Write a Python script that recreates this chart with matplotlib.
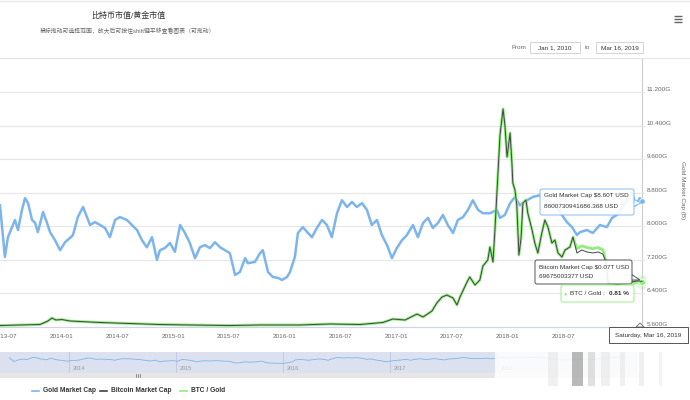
import numpy as np
import pandas as pd
import matplotlib
matplotlib.use('Agg')
import matplotlib.pyplot as plt
from matplotlib.patches import Rectangle, FancyBboxPatch, Polygon

# 黄金市值 (万亿美元)
gold_dates = ['2013-06-12', '2013-06-28', '2013-07-08', '2013-07-31', '2013-08-10', '2013-08-23',
              '2013-09-02', '2013-09-12', '2013-09-25', '2013-10-05', '2013-10-14', '2013-10-31',
              '2013-11-13', '2013-11-23', '2013-12-09', '2013-12-26', '2014-01-11', '2014-01-27',
              '2014-02-06', '2014-02-22', '2014-03-11', '2014-03-24', '2014-04-03', '2014-04-19',
              '2014-05-06', '2014-05-22', '2014-06-07', '2014-06-24', '2014-07-10', '2014-08-02',
              '2014-08-18', '2014-09-04', '2014-09-20', '2014-10-06', '2014-10-23', '2014-11-08',
              '2014-11-18', '2014-12-04', '2014-12-21', '2015-01-06', '2015-01-23', '2015-02-08',
              '2015-02-24', '2015-03-13', '2015-03-29', '2015-04-14', '2015-05-01', '2015-05-17',
              '2015-06-03', '2015-06-19', '2015-07-05', '2015-07-22', '2015-08-07', '2015-08-24',
              '2015-09-02', '2015-09-25', '2015-10-12', '2015-10-21', '2015-11-07', '2015-11-23',
              '2015-12-10', '2015-12-23', '2016-01-08', '2016-01-18', '2016-02-03', '2016-02-13',
              '2016-02-29', '2016-03-17', '2016-03-30', '2016-04-15', '2016-05-02', '2016-05-18',
              '2016-06-03', '2016-06-20', '2016-07-06', '2016-07-23', '2016-08-08', '2016-08-24',
              '2016-09-10', '2016-09-26', '2016-10-12', '2016-10-29', '2016-11-14', '2016-12-01',
              '2016-12-17', '2017-01-02', '2017-01-19', '2017-02-04', '2017-02-24', '2017-03-12',
              '2017-03-29', '2017-04-14', '2017-04-30', '2017-05-17', '2017-06-02', '2017-06-18',
              '2017-07-05', '2017-07-21', '2017-08-07', '2017-08-23', '2017-09-08', '2017-09-25',
              '2017-10-11', '2017-11-03', '2017-11-26', '2017-12-06', '2017-12-22', '2018-01-08',
              '2018-01-24', '2018-02-09', '2018-03-04', '2018-03-24', '2018-04-16', '2018-05-12',
              '2018-06-04', '2018-06-20', '2018-07-13', '2018-07-30', '2018-08-15', '2018-08-25',
              '2018-09-17', '2018-10-06', '2018-10-29', '2018-11-21', '2018-12-08', '2018-12-24',
              '2019-01-09', '2019-01-26', '2019-02-11', '2019-02-24', '2019-03-09', '2019-03-16']
gold_cap = [8.50, 7.27, 7.74, 8.15, 7.91, 8.39, 8.67, 8.55, 8.15, 8.08, 7.86, 8.34,
            8.08, 7.86, 7.67, 7.43, 7.62, 7.72, 7.79, 8.22, 8.46, 8.22, 8.03, 8.10,
            8.03, 7.96, 7.74, 8.15, 8.22, 8.15, 8.03, 7.91, 7.67, 7.50, 7.74, 7.20,
            7.43, 7.48, 7.60, 7.39, 8.03, 7.84, 7.60, 7.24, 7.50, 7.55, 7.48, 7.62,
            7.50, 7.43, 7.36, 6.84, 6.91, 7.24, 7.12, 7.15, 7.36, 7.43, 6.91, 6.79,
            6.77, 6.72, 6.79, 6.91, 7.27, 7.84, 7.98, 7.84, 7.74, 7.96, 8.15, 8.03,
            7.74, 8.31, 8.62, 8.46, 8.58, 8.46, 8.55, 8.39, 8.03, 8.15, 7.79, 7.55,
            7.24, 7.48, 7.67, 7.79, 8.03, 7.74, 8.08, 8.20, 7.96, 8.08, 8.27, 8.03,
            7.84, 8.15, 8.22, 8.39, 8.62, 8.39, 8.31, 8.31, 8.39, 8.20, 8.27, 8.55,
            8.70, 8.50, 8.62, 8.70, 8.74, 8.55, 8.50, 8.34, 8.10, 7.98, 7.79, 7.86,
            7.91, 7.84, 8.03, 7.98, 8.20, 8.27, 8.43, 8.62, 8.81, 8.50, 8.67, 8.60]

# 比特币市值 (十亿美元) 与 BTC/黄金 (%)
btc_dates = ['2013-06-12', '2013-08-16', '2013-10-21', '2013-11-16', '2013-11-29', '2013-12-12',
             '2014-01-01', '2014-01-27', '2014-03-01', '2014-05-06', '2014-08-12', '2014-11-18',
             '2015-02-24', '2015-07-05', '2015-10-12', '2016-02-20', '2016-05-28', '2016-09-03',
             '2016-11-17', '2016-12-20', '2017-01-29', '2017-03-09', '2017-03-29', '2017-04-27',
             '2017-05-13', '2017-05-30', '2017-06-15', '2017-07-05', '2017-07-18', '2017-07-28',
             '2017-08-20', '2017-08-29', '2017-09-15', '2017-10-01', '2017-10-11', '2017-10-27',
             '2017-11-03', '2017-11-13', '2017-11-19', '2017-11-29', '2017-12-06', '2017-12-16',
             '2017-12-22', '2017-12-29', '2018-01-01', '2018-01-08', '2018-01-14', '2018-01-17',
             '2018-01-24', '2018-01-30', '2018-02-06', '2018-02-13', '2018-02-19', '2018-03-01',
             '2018-03-07', '2018-03-21', '2018-03-30', '2018-04-09', '2018-04-22', '2018-05-02',
             '2018-05-12', '2018-05-25', '2018-06-04', '2018-06-14', '2018-06-27', '2018-07-07',
             '2018-07-23', '2018-08-02', '2018-08-15', '2018-08-31', '2018-09-17', '2018-10-06',
             '2018-10-23', '2018-11-08', '2018-11-18', '2018-11-25', '2018-12-24', '2019-01-26',
             '2019-02-27', '2019-03-16']
btc_cap = [2.3, 3.1, 3.8, 9.2, 13.7, 10.7, 11.4, 9.2, 8.4, 6.9,
           5.3, 3.8, 3.1, 2.3, 3.1, 3.1, 4.6, 3.8, 6.9, 12.2,
           10.7, 19.8, 15.3, 24.4, 36.6, 45.8, 48.8, 44.3, 33.6, 45.8,
           68.7, 76.3, 64.1, 71.7, 93.1, 102.3, 122.1, 99.2, 145.0, 232.0,
           293.1, 332.8, 308.3, 259.5, 270.2, 296.1, 250.3, 219.8, 209.1, 186.2,
           109.9, 135.8, 189.3, 193.9, 174.0, 148.1, 128.2, 113.0, 143.5, 163.3,
           152.6, 128.2, 132.8, 113.0, 106.8, 117.5, 122.1, 137.4, 113.0, 117.5,
           114.5, 113.0, 114.5, 111.4, 99.2, 67.2, 65.6, 67.2, 70.2, 69.7]
btc_gold = [0.027, 0.036, 0.045, 0.107, 0.161, 0.125, 0.134, 0.107, 0.098, 0.080,
            0.063, 0.045, 0.036, 0.027, 0.036, 0.036, 0.054, 0.045, 0.080, 0.143,
            0.125, 0.232, 0.179, 0.286, 0.429, 0.536, 0.572, 0.518, 0.393, 0.536,
            0.804, 0.894, 0.751, 0.840, 1.090, 1.197, 1.430, 1.162, 1.698, 2.716,
            3.431, 3.896, 3.610, 3.038, 3.163, 3.467, 2.931, 2.573, 2.448, 2.180,
            1.287, 1.590, 2.216, 2.270, 2.037, 1.733, 1.501, 1.322, 1.680, 1.912,
            1.787, 1.501, 1.555, 1.322, 1.251, 1.376, 1.430, 1.608, 1.40, 1.45,
            1.42, 1.40, 1.42, 1.38, 1.18, 0.786, 0.768, 0.786, 0.822, 0.81]

x_ticks = ['2013-07-01', '2014-01-01', '2014-07-01', '2015-01-01', '2015-07-01', '2016-01-01',
           '2016-07-01', '2017-01-01', '2017-07-01', '2018-01-01', '2018-07-01']
gold_ticks = [5.6, 6.4, 7.2, 8.0, 8.8, 9.6, 10.4, 11.2, 12.0]
gold_tick_labels = ['5.600G', '6.400G', '7.200G', '8.000G', '8.800G', '9.600G',
                    '10.400G', '11.200G', '']
nav_years = ['2014', '2015', '2016', '2017', '2018']

plt.rcParams['font.family'] = ['Liberation Sans', 'Noto Sans CJK SC', 'DejaVu Sans']

W, H = 690, 400
fig = plt.figure(figsize=(6.9, 4), dpi=100)


def fbox(x0, y0, x1, y1):
    return [x0 / W, 1 - y1 / H, (x1 - x0) / W, (y1 - y0) / H]


g_dates = pd.to_datetime(gold_dates)
b_dates = pd.to_datetime(btc_dates)

# 主图
ax = fig.add_axes(fbox(0, 58.4, 645, 327))
ax.plot(g_dates, gold_cap, color='#7cb5ec', lw=1.8)
ax.plot(g_dates[-1], gold_cap[-1], 'o', ms=4, color='#7cb5ec', mec='white', mew=0.6)
ax.set_xlim(pd.Timestamp('2013-06-12'), pd.Timestamp('2019-03-26'))
ax.set_ylim(5.6, 12.0)
ax.set_xticks(pd.to_datetime(x_ticks))
ax.set_xticklabels([d[:7] for d in x_ticks])
ax.grid(axis='y', color='#e6e6e6', lw=0.8)
ax.set_axisbelow(True)
for s in ax.spines.values():
    s.set_visible(False)
ax.spines['bottom'].set_visible(True)
ax.spines['bottom'].set_color('#ccd6eb')
ax.spines['bottom'].set_linewidth(0.8)
ax.axvline(pd.Timestamp('2019-03-16'), color='#cccccc', lw=0.8, zorder=0)

ax_r = ax.twinx()
ax_r.plot(b_dates, btc_gold, color='#90ed7d', lw=2.0)
ax_r.plot(b_dates[-1], btc_gold[-1], 'o', ms=10, color='#90ed7d', alpha=0.3, mew=0)
ax_r.plot(b_dates[-1], btc_gold[-1], 'o', ms=4.5, color='#90ed7d', mec='white', mew=0.6)
ax_r.set_ylim(0, 4.8)
ax_r.axis('off')

ax_b = ax.twinx()
ax_b.plot(b_dates, btc_cap, color='#434348', lw=0.7)
ax_b.set_ylim(0, 410)
ax_b.axis('off')

# twinx 会把原坐标轴的刻度放回左侧, 这里重新放到右侧
ax.yaxis.tick_right()
ax.set_yticks(gold_ticks)
ax.set_yticklabels(gold_tick_labels)
for lbl in ax.get_yticklabels():
    lbl.set_verticalalignment('bottom')
ax.tick_params(axis='x', length=0, labelsize=4.6, labelcolor='#666666', pad=5)
ax.tick_params(axis='y', length=0, labelsize=4.6, labelcolor='#666666', pad=1,
               labelleft=False, labelright=True)

fig.text(682 / W, 1 - 190 / H, 'Gold Market Cap (B)', rotation=270, ha='center', va='center',
         fontsize=4.6, color='#666666')

# 导航器
nav = fig.add_axes(fbox(0, 352, 638, 373))
nav.set_facecolor('#dbe1ef')
nav.plot(g_dates, gold_cap, color='#7cb5ec', lw=0.6)
nav.set_xlim(pd.Timestamp('2013-05-11'), pd.Timestamp('2019-04-26'))
nav.set_ylim(3.6, 10.4)
nav.set_xticks([])
nav.set_yticks([])
for s in nav.spines.values():
    s.set_visible(False)
for yr in nav_years:
    d = pd.Timestamp(yr + '-01-01')
    nav.axvline(d, color='#c3cbe0', lw=0.7, zorder=0)
    nav.text(d + pd.Timedelta(days=12), 0.22, yr, transform=nav.get_xaxis_transform(),
             fontsize=4, color='#999999', ha='left', va='center')

# 叠加层: 标题, 提示框, 图例
ov = fig.add_axes([0, 0, 1, 1], zorder=10)
ov.set_xlim(0, W)
ov.set_ylim(H, 0)
ov.axis('off')
ov.patch.set_alpha(0)

ov.plot([0, W], [1, 1], color='#e6e6e6', lw=0.8)
ov.plot([0, W], [58, 58], color='#e6e6e6', lw=0.8)
ov.text(128, 16, '比特币市值/黄金市值', fontsize=5.8, color='#333333', ha='center', va='center')
ov.text(127, 31, '鼠标拖动可选择范围，放大后可按住shift键平移查看图表（可拖动）', fontsize=4.2,
        color='#666666', ha='center', va='center')
for yy in (15.5, 18.5, 21.5):
    ov.plot([673.5, 681.5], [yy, yy], color='#666666', lw=1.0, solid_capstyle='butt')

ov.text(512, 47.5, 'From', fontsize=4.6, color='#666666', va='center')
ov.add_patch(Rectangle((530, 42), 50, 11, fc='white', ec='#cccccc', lw=0.6))
ov.text(555, 47.5, 'Jan 1, 2010', fontsize=4.6, color='#333333', ha='center', va='center')
ov.text(585, 47.5, 'to', fontsize=4.6, color='#666666', va='center')
ov.add_patch(Rectangle((596, 42), 47, 11, fc='white', ec='#cccccc', lw=0.6))
ov.text(619.5, 47.5, 'Mar 16, 2019', fontsize=4.6, color='#333333', ha='center', va='center')


def tooltip(x0, y0, x1, y1, ec, tip):
    ov.add_patch(Polygon(tip, closed=True, fc='white', ec=ec, lw=0.7, alpha=0.9))
    ov.add_patch(FancyBboxPatch((x0, y0), x1 - x0, y1 - y0,
                                boxstyle='round,pad=0,rounding_size=2',
                                fc='white', ec=ec, lw=0.7, alpha=0.9))


tooltip(540, 189, 634, 215, '#7cb5ec', [(633, 199), (641, 203), (633, 207)])
ov.text(544, 196, 'Gold Market Cap $8.60T USD', fontsize=4.6, color='#333333', va='center')
ov.text(544, 207, '8600730941686.368 USD', fontsize=4.6, color='#333333', va='center')

tooltip(535, 260, 632, 284, '#434348', [(631, 274), (640, 280), (631, 280)])
ov.text(539, 267, 'Bitcoin Market Cap $0.07T USD', fontsize=4.6, color='#333333', va='center')
ov.text(539, 277, '69675003377 USD', fontsize=4.6, color='#333333', va='center')

tooltip(561, 285, 634, 302, '#90ed7d', [(625, 286), (639, 282), (631, 286)])
ov.text(564, 293.5, '●', fontsize=4.0, color='#90ed7d', va='center')
ov.text(570, 293.5, 'BTC / Gold :', fontsize=4.6, color='#333333', va='center')
ov.text(609, 293.5, '0.81 %', fontsize=4.6, color='#333333', va='center', fontweight='bold')

ov.add_patch(Polygon([(636, 327), (640, 323), (644, 327)], closed=True, fc='white',
                     ec='#666666', lw=0.6))
ov.add_patch(Rectangle((609, 327), 79, 16, fc='white', ec='#555555', lw=0.7))
ov.text(648.5, 335, 'Saturday, Mar 16, 2019', fontsize=4.6, color='#333333',
        ha='center', va='center')

# 滚动条
ov.add_patch(Rectangle((0, 373), 640, 5, fc='#e6e6e6', ec='none'))
for xx in (135.5, 137.5, 139.5):
    ov.plot([xx, xx], [374.2, 376.8], color='#666666', lw=0.5)

# 图例
legend_items = [('Gold Market Cap', '#7cb5ec', 32), ('Bitcoin Market Cap', '#434348', 100),
                ('BTC / Gold', '#90ed7d', 180)]
for name, col, lx in legend_items:
    ov.plot([lx, lx + 7], [390.5, 390.5], color=col, lw=1.2)
    ov.text(lx + 11, 390.5, name, fontsize=4.8, color='#333333', va='center', fontweight='bold')

# 右下角水印遮挡
ov.add_patch(Rectangle((495, 346), 195, 54, fc='white', ec='none', alpha=0.85))
for bx, bw, shade in [(548, 10, 0.9), (572, 11, 0.55), (588, 7, 0.8), (601, 9, 0.9),
                      (620, 5, 0.9), (639, 5, 0.9), (659, 3, 0.92)]:
    ov.add_patch(Rectangle((bx, 352), bw, 34, fc=str(shade), ec='none', alpha=0.6))

fig.savefig('out.png', dpi=100, facecolor='white')
